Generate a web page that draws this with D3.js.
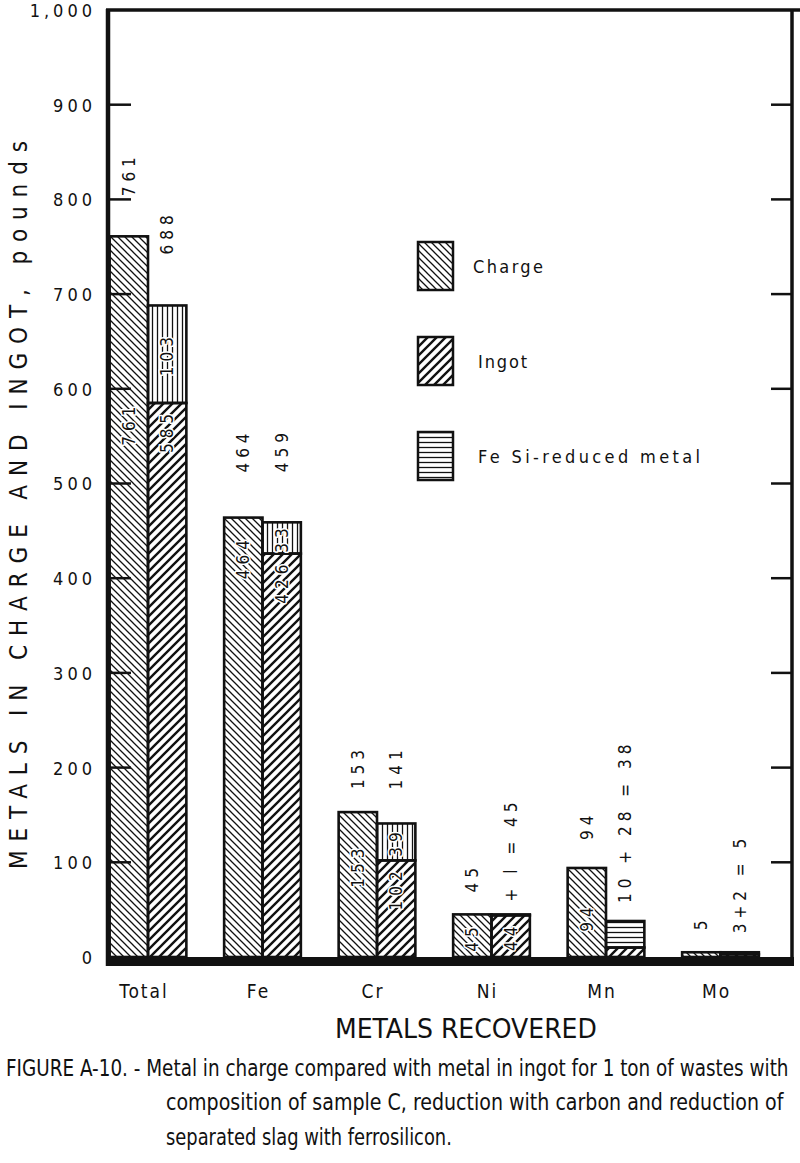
<!DOCTYPE html>
<html><head><meta charset="utf-8">
<script src="https://cdn.jsdelivr.net/npm/d3@7"></script>
<style>
body{margin:0;background:#fff}
svg{display:block}
text{font-family:"DejaVu Sans Condensed","DejaVu Sans",sans-serif;fill:#111}
</style>
</head><body>
<svg id="c" width="800" height="1163"></svg>
<script>
// ---------- data ----------
const categories = ["Total", "Fe", "Cr", "Ni", "Mn", "Mo"];
const charge = [761, 464, 153, 45, 94, 5];
const ingot  = [585, 426, 102, 44, 10, 3];
const fesi   = [103, 33, 39, 1, 28, 2];
const chargeTopLabels   = ["761", "464", "153", "45", "94", "5"];
const ingotTopLabels    = ["688", "459", "141", "+ l = 45", "10 + 28 = 38", "3+2 = 5"];
const chargeInLabels    = ["761", "464", "153", "45", "94", ""];
const ingotInLabels     = ["585", "426", "102", "44", "", ""];
const fesiInLabels      = ["103", "33", "39", "", "", ""];
const yTicks = [0, 100, 200, 300, 400, 500, 600, 700, 800, 900, 1000];
const legendItems = ["Charge", "Ingot", "Fe Si-reduced metal"];
const yTitle = "METALS IN CHARGE AND INGOT, pounds";
const xTitle = "METALS RECOVERED";
const caption = [
  "FIGURE A-10. - Metal in charge compared with metal in ingot for 1 ton of wastes with",
  "composition of sample C, reduction with carbon and reduction of",
  "separated slag with ferrosilicon."
];

// ---------- style (layout only) ----------
const chargeGap = [40, 45, 23, 22, 28, 22];
const ingotGap  = [51, 50, 34, 13, 18, 19];
const chargeInFrac = [0.26, 0.09, 0.37, 0.53, 0.55, 0.5];
const fesiPattern = ["v", "v", "v", "h", "h", "h"];

const svg = d3.select("#c");
const defs = svg.append("defs");

function fit(sel, x0, y0, target, rot) {
  const w = sel.node().getComputedTextLength();
  const s = target / w;
  sel.attr("x", 0).attr("y", 0)
    .attr("transform", `translate(${x0},${y0})${rot ? " rotate(" + rot + ")" : ""} scale(${s},1)`);
}

// patterns
const pc = defs.append("pattern").attr("id", "pCharge").attr("patternUnits", "userSpaceOnUse")
  .attr("width", 7).attr("height", 7);
pc.append("path").attr("d", "M0,0 L7,7 M-1,6 L1,8 M6,-1 L8,1")
  .attr("stroke", "#111").attr("stroke-width", 1.3);
const pi = defs.append("pattern").attr("id", "pIngot").attr("patternUnits", "userSpaceOnUse")
  .attr("width", 9).attr("height", 9);
pi.append("path").attr("d", "M0,9 L9,0 M-1,1 L1,-1 M8,10 L10,8")
  .attr("stroke", "#111").attr("stroke-width", 2.4);
const pv = defs.append("pattern").attr("id", "pFesiv").attr("patternUnits", "userSpaceOnUse")
  .attr("width", 5).attr("height", 10);
pv.append("path").attr("d", "M2.5,0 L2.5,10").attr("stroke", "#111").attr("stroke-width", 1.3);
const ph = defs.append("pattern").attr("id", "pFesih").attr("patternUnits", "userSpaceOnUse")
  .attr("width", 10).attr("height", 5);
ph.append("path").attr("d", "M0,2.5 L10,2.5").attr("stroke", "#111").attr("stroke-width", 1.3);

// scales
const y = d3.scaleLinear().domain([0, 1000]).range([957, 10]);
const x = d3.scaleBand().domain(categories).range([90.75, 777.75]).paddingInner(0.33).paddingOuter(0.165);
const sub = d3.scaleBand().domain(["charge", "ingot"]).range([0, x.bandwidth()]);
const bw = sub.bandwidth();

// ticks (drawn under bars)
const inner = yTicks.filter(d => d > 0 && d < 1000);
const gTicks = svg.append("g");
gTicks.selectAll("line.l").data(inner).join("line")
  .attr("x1", 108).attr("x2", 131).attr("y1", d => y(d)).attr("y2", d => y(d))
  .attr("stroke", "#111").attr("stroke-width", 2.5);
gTicks.selectAll("line.r").data(inner).join("line")
  .attr("x1", 771).attr("x2", 792).attr("y1", d => y(d)).attr("y2", d => y(d))
  .attr("stroke", "#111").attr("stroke-width", 2.5);

// tick labels via d3 axis
const axisL = d3.axisLeft(y).tickValues(yTicks).tickFormat(d3.format(",")).tickSize(0).tickPadding(0);
const gAx = svg.append("g").attr("transform", "translate(96,0)").call(axisL);
gAx.select(".domain").remove();
gAx.selectAll("text").attr("font-family", "DejaVu Sans, sans-serif").attr("font-size", 18)
  .attr("letter-spacing", 4).attr("fill", "#111").attr("dy", "0.36em");

// bars
const gBars = svg.append("g");
categories.forEach((c, i) => {
  const x0 = x(c) + sub("charge"), x1 = x(c) + sub("ingot");
  gBars.append("rect").attr("x", x0).attr("y", y(charge[i])).attr("width", bw)
    .attr("height", y(0) - y(charge[i])).attr("fill", "url(#pCharge)")
    .attr("stroke", "#111").attr("stroke-width", 2.6);
  gBars.append("rect").attr("x", x1).attr("y", y(ingot[i])).attr("width", bw)
    .attr("height", y(0) - y(ingot[i])).attr("fill", "url(#pIngot)")
    .attr("stroke", "#111").attr("stroke-width", 2.6);
  gBars.append("rect").attr("x", x1).attr("y", y(ingot[i] + fesi[i])).attr("width", bw)
    .attr("height", y(ingot[i]) - y(ingot[i] + fesi[i]))
    .attr("fill", fesiPattern[i] === "v" ? "url(#pFesiv)" : "url(#pFesih)")
    .attr("stroke", "#111").attr("stroke-width", 2.6);
});

// labels
const numFont = "DejaVu Sans, sans-serif";
function vtext(g, cx, cy, txt, anchor, halo) {
  const t = g.append("text").attr("transform", `translate(${cx},${cy}) rotate(-90)`)
    .attr("text-anchor", anchor).attr("dominant-baseline", "central")
    .attr("font-family", numFont).attr("font-size", 17).attr("letter-spacing", 5)
    .text(txt);
  if (halo) t.attr("stroke", "#fff").attr("stroke-width", 3).attr("paint-order", "stroke")
    .attr("stroke-linejoin", "round");
  return t;
}
const gLab = svg.append("g");
categories.forEach((c, i) => {
  const cxC = x(c) + sub("charge") + bw / 2, cxI = x(c) + sub("ingot") + bw / 2;
  vtext(gLab, cxC, y(charge[i]) - chargeGap[i], chargeTopLabels[i], "start", false);
  vtext(gLab, cxI, y(ingot[i] + fesi[i]) - ingotGap[i], ingotTopLabels[i], "start", false);
  if (chargeInLabels[i]) {
    const yy = y(charge[i]) + chargeInFrac[i] * (y(0) - y(charge[i]));
    vtext(gLab, cxC, yy, chargeInLabels[i], "middle", true);
  }
  if (ingotInLabels[i]) {
    const h = y(0) - y(ingot[i]);
    vtext(gLab, cxI, y(ingot[i]) + Math.min(28, h / 2), ingotInLabels[i], "middle", true);
  }
  if (fesiInLabels[i]) {
    vtext(gLab, cxI, (y(ingot[i]) + y(ingot[i] + fesi[i])) / 2, fesiInLabels[i], "middle", true);
  }
});

// frame
svg.append("line").attr("x1", 108).attr("x2", 108).attr("y1", 9).attr("y2", 966)
  .attr("stroke", "#111").attr("stroke-width", 4.5);
svg.append("line").attr("x1", 106).attr("x2", 800).attr("y1", 10).attr("y2", 10)
  .attr("stroke", "#111").attr("stroke-width", 3.5);
svg.append("line").attr("x1", 792).attr("x2", 792).attr("y1", 9).attr("y2", 966)
  .attr("stroke", "#111").attr("stroke-width", 3.5);
svg.append("rect").attr("x", 106).attr("y", y(0)).attr("width", 688).attr("height", 9).attr("fill", "#111");

// legend
const legY = [242, 337, 432];
const legTextLen = [70, 49, 222];
legendItems.forEach((l, i) => {
  const pat = i === 0 ? "url(#pCharge)" : i === 1 ? "url(#pIngot)" : "url(#pFesih)";
  svg.append("rect").attr("x", 418).attr("y", legY[i]).attr("width", 35).attr("height", 48)
    .attr("fill", pat).attr("stroke", "#111").attr("stroke-width", 2.5);
  svg.append("text").attr("x", i === 0 ? 473 : 478).attr("y", legY[i] + 31)
    .attr("font-size", 18).attr("textLength", legTextLen[i]).attr("lengthAdjust", "spacing")
    .text(l);
});

// category labels
const axisB = d3.axisBottom(x).tickSize(0).tickPadding(0);
const gB = svg.append("g").attr("transform", "translate(-4,984)").call(axisB);
gB.select(".domain").remove();
gB.selectAll("text").attr("font-family", "DejaVu Sans Condensed, sans-serif").attr("font-size", 19)
  .attr("letter-spacing", 2).attr("fill", "#111");

// titles
svg.append("text").attr("transform", "translate(27,505) rotate(-90)").attr("text-anchor", "middle")
  .attr("font-size", 24).attr("textLength", 728).attr("lengthAdjust", "spacing").text(yTitle);
const xt = svg.append("text").attr("font-size", 27).text(xTitle);
fit(xt, 335, 1038, 262, 0);

// caption
const capX = [6, 166, 166], capY = [1076, 1110, 1145], capLen = [783, 618, 286];
caption.forEach((t, i) => {
  const ct = svg.append("text").attr("font-size", 23).text(t);
  fit(ct, capX[i], capY[i], capLen[i], 0);
});
</script>
</body></html>
